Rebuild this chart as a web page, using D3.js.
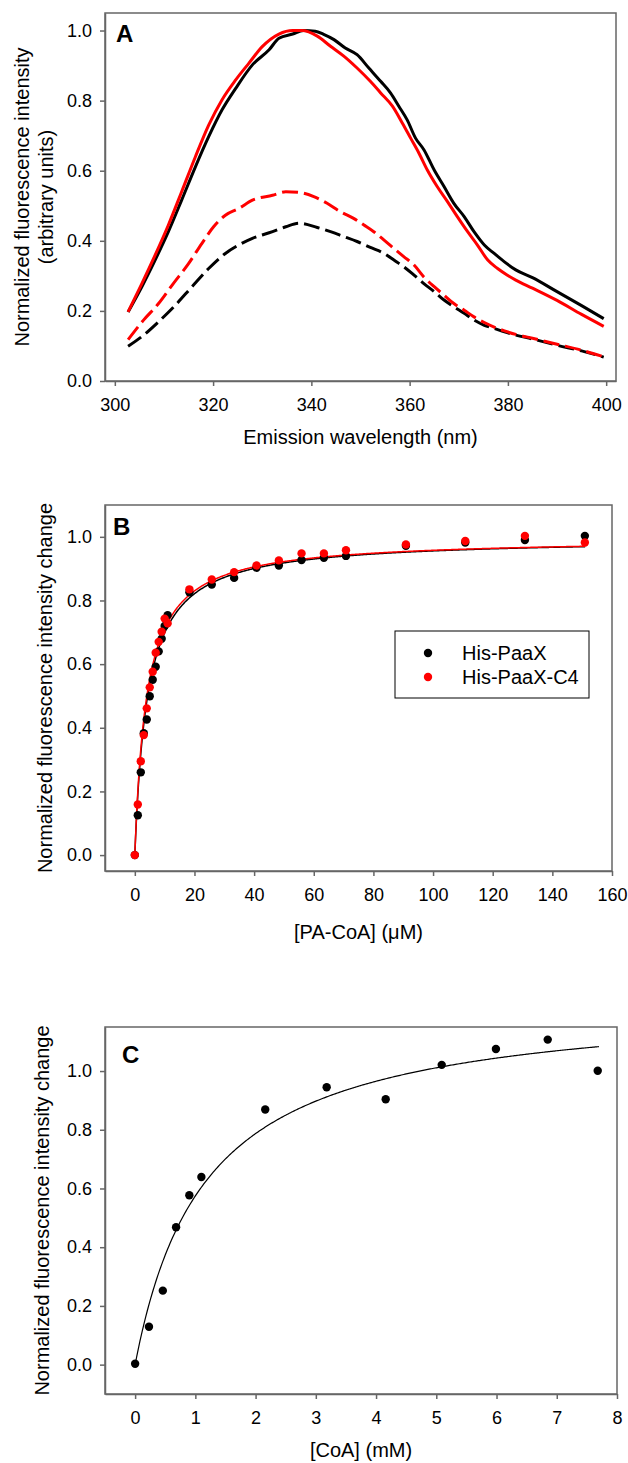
<!DOCTYPE html>
<html>
<head>
<meta charset="utf-8">
<script src="https://d3js.org/d3.v7.min.js"></script>
<style>
  body { margin: 0; background: #fff; }
  svg text { font-family: Arial, "Liberation Sans", sans-serif; fill: #000; }
</style>
</head>
<body>
<div id="chart"></div>
<script>
// ---- panel A : emission spectra, [wavelength nm, normalized intensity]
const specBlackSolid = [[302.7,0.197],[305.5,0.269],[308.2,0.345],[310.9,0.426],[313.6,0.516],[316.4,0.611],
  [319.1,0.697],[321.8,0.773],[324.6,0.835],[328.0,0.902],[331.4,0.945],[333.4,0.978],[336.2,0.99],[338.4,1.0],
  [340.8,0.998],[342.5,0.989],[344.6,0.974],[346.9,0.95],[349.3,0.931],[351.7,0.893],[354.1,0.855],[356.1,0.822],
  [357.8,0.784],[359.5,0.745],[361.2,0.693],[362.9,0.66],[365.0,0.602],[367.0,0.555],[369.0,0.507],[371.1,0.469],
  [373.1,0.426],[375.2,0.388],[377.2,0.364],[379.3,0.34],[381.6,0.317],[385,0.295],[390,0.255],[395,0.215],[399.5,0.178]];
const specRedSolid = [[302.7,0.197],[305.5,0.278],[308.2,0.359],[310.9,0.445],[313.6,0.54],[316.4,0.64],
  [319.1,0.73],[321.8,0.802],[324.6,0.859],[327.3,0.907],[330.0,0.954],[333.4,0.99],[336.2,1.0],[338.1,1.0],
  [341.2,0.984],[343.9,0.955],[346.6,0.927],[349.3,0.893],[352.0,0.855],[354.1,0.822],[356.5,0.784],[358.5,0.736],
  [360.2,0.693],[361.9,0.65],[363.6,0.602],[365.6,0.555],[367.7,0.512],[369.7,0.469],[371.8,0.426],[373.8,0.388],
  [375.9,0.345],[377.9,0.321],[379.9,0.302],[381.6,0.288],[385,0.265],[390,0.23],[395,0.19],[399.5,0.156]];
const specRedDash = [[302.7,0.118],[305.8,0.173],[308.9,0.221],[311.9,0.278],[315.0,0.335],[317.7,0.392],
  [320.1,0.44],[322.5,0.473],[325.2,0.492],[328.0,0.516],[332.1,0.53],[334.8,0.54],[337.5,0.538],[340.5,0.526],
  [343.2,0.507],[345.9,0.483],[348.6,0.464],[350.7,0.445],[352.7,0.426],[354.8,0.402],[356.8,0.378],[358.8,0.355],
  [360.9,0.331],[362.9,0.297],[365.0,0.269],[367.0,0.245],[369.0,0.221],[371.1,0.202],[373.1,0.183],[375.2,0.167],
  [377.2,0.154],[379.3,0.143],[381.6,0.133],[385,0.122],[390,0.105],[395,0.088],[399.5,0.069]];
const specBlackDash = [[302.7,0.099],[305.8,0.13],[308.9,0.169],[312.3,0.216],[315.7,0.269],[319.1,0.321],
  [322.5,0.364],[325.2,0.388],[328.0,0.407],[332.1,0.426],[334.8,0.44],[337.5,0.45],[341.2,0.438],[343.9,0.426],
  [346.6,0.412],[349.3,0.398],[352.0,0.381],[354.8,0.364],[356.8,0.345],[358.8,0.326],[360.9,0.302],[362.9,0.278],
  [365.0,0.255],[367.0,0.231],[369.0,0.212],[371.1,0.193],[373.1,0.174],[375.2,0.159],[377.2,0.15],[379.3,0.14],
  [381.6,0.131],[385,0.12],[390,0.102],[395,0.086],[399.5,0.068]];
const ticksA_x = [300, 320, 340, 360, 380, 400];
const ticksA_y = [0, 0.2, 0.4, 0.6, 0.8, 1.0];

// ---- panel B : PA-CoA titration
const paConc = [0, 1, 2, 3, 4, 5, 6, 7, 8, 9, 10, 11, 18.3, 25.8, 33.3, 40.8, 48.3, 55.9, 63.4, 70.8, 90.9, 110.8, 130.8, 150.9];
const paBlack = [0, 0.125, 0.26, 0.383, 0.426, 0.499, 0.551, 0.592, 0.64, 0.68, 0.72, 0.754,
  0.826, 0.85, 0.871, 0.903, 0.91, 0.927, 0.934, 0.94, 0.972, 0.982, 0.99, 1.003];
const paRed = [0, 0.159, 0.295, 0.377, 0.461, 0.527, 0.576, 0.636, 0.67, 0.702, 0.743, 0.728,
  0.835, 0.866, 0.889, 0.91, 0.926, 0.948, 0.948, 0.958, 0.976, 0.987, 1.003, 0.982];
const fitBlack = {bmax: 0.9966, kd: 4.27};
const fitRed = {bmax: 0.996, kd: 4.0};
const legendNames = ["His-PaaX", "His-PaaX-C4"];
const ticksB_x = [0, 20, 40, 60, 80, 100, 120, 140, 160];
const ticksB_y = [0, 0.2, 0.4, 0.6, 0.8, 1.0];

// ---- panel C : CoA titration
const coaConc = [0, 0.23, 0.46, 0.68, 0.9, 1.1, 2.16, 3.18, 4.16, 5.09, 5.99, 6.85, 7.68];
const coaVal = [0.003, 0.129, 0.252, 0.468, 0.577, 0.639, 0.869, 0.945, 0.904, 1.021, 1.075, 1.107, 1.001];
const fitCoa = {bmax: 1.248, kd: 1.172};
const ticksC_x = [0, 1, 2, 3, 4, 5, 6, 7, 8];
const ticksC_y = [0, 0.2, 0.4, 0.6, 0.8, 1.0];

const svg = d3.select("#chart").append("svg")
  .attr("width", 628).attr("height", 1463);

const AXIS = "#666";

function panel(cfg) {
  const x = d3.scaleLinear().domain(cfg.xDomain).range([cfg.left, cfg.right]);
  const y = d3.scaleLinear().domain(cfg.yDomain).range([cfg.bottom, cfg.top]);
  const g = svg.append("g");

  g.append("rect")
    .attr("x", cfg.left).attr("y", cfg.top)
    .attr("width", cfg.right - cfg.left).attr("height", cfg.bottom - cfg.top)
    .attr("fill", "none").attr("stroke", AXIS).attr("stroke-width", 1.5);

  const xa = g.append("g").attr("transform", `translate(0,${cfg.bottom})`)
    .call(d3.axisBottom(x).tickValues(cfg.xTicks).tickFormat(cfg.xFormat)
      .tickSize(5).tickPadding(12).tickSizeOuter(0));
  const ya = g.append("g").attr("transform", `translate(${cfg.left},0)`)
    .call(d3.axisLeft(y).tickValues(cfg.yTicks).tickFormat(d3.format(".1f"))
      .tickSize(5).tickPadding(8).tickSizeOuter(0));
  [xa, ya].forEach(a => {
    a.selectAll("path, line").attr("stroke", AXIS).attr("stroke-width", 1.5);
    a.selectAll("text").style("font-size", "18px").attr("fill", "#000");
  });

  g.append("text").attr("x", cfg.letterX).attr("y", cfg.letterY)
    .style("font-size", "24px").style("font-weight", "bold").text(cfg.letter);

  g.append("text").attr("x", (cfg.left + cfg.right) / 2).attr("y", cfg.xLabelY)
    .attr("text-anchor", "middle").style("font-size", "20px").text(cfg.xLabel);

  const mid = (cfg.top + cfg.bottom) / 2;
  cfg.yLabel.forEach((t, i) => {
    g.append("text")
      .attr("transform", `translate(${cfg.yLabelX[i]},${mid}) rotate(-90)`)
      .attr("text-anchor", "middle").attr("dy", "0.35em")
      .style("font-size", "20px").text(t);
  });
  return {g, x, y};
}

// ---------- A
const pA = panel({
  left: 105, right: 616, top: 13, bottom: 381,
  xDomain: [298, 402], yDomain: [0, 1.05],
  xTicks: ticksA_x, yTicks: ticksA_y, xFormat: d3.format("d"),
  letter: "A", letterX: 116, letterY: 42,
  xLabel: "Emission wavelength (nm)", xLabelY: 444,
  yLabel: ["Normalized fluorescence intensity", "(arbitrary units)"], yLabelX: [22, 46]
});
const lineA = d3.line().x(d => pA.x(d[0])).y(d => pA.y(d[1])).curve(d3.curveMonotoneX);
[
  {d: specBlackDash, c: "#000", dash: "16,6"},
  {d: specRedDash, c: "#ff0000", dash: "16,6"},
  {d: specBlackSolid, c: "#000", dash: null},
  {d: specRedSolid, c: "#ff0000", dash: null}
].forEach(s => {
  pA.g.append("path").datum(s.d)
    .attr("d", lineA).attr("fill", "none")
    .attr("stroke", s.c).attr("stroke-width", 3)
    .attr("stroke-dasharray", s.dash);
});

// ---------- B
const pB = panel({
  left: 105, right: 612, top: 505, bottom: 871,
  xDomain: [-10, 160], yDomain: [-0.05, 1.1],
  xTicks: ticksB_x, yTicks: ticksB_y, xFormat: d3.format("d"),
  letter: "B", letterX: 113, letterY: 535,
  xLabel: "[PA-CoA] (\u03bcM)", xLabelY: 939,
  yLabel: ["Normalized fluorescence intensity change"], yLabelX: [45]
});
const xsB = d3.range(0, 151.01, 0.25);
[{f: fitBlack, c: "#000"}, {f: fitRed, c: "#ff0000"}].forEach(s => {
  pB.g.append("path")
    .datum(xsB.map(v => [v, s.f.bmax * v / (s.f.kd + v)]))
    .attr("d", d3.line().x(d => pB.x(d[0])).y(d => pB.y(d[1])))
    .attr("fill", "none").attr("stroke", s.c).attr("stroke-width", 1.5);
});
[{v: paBlack, c: "#000"}, {v: paRed, c: "#ff0000"}].forEach(s => {
  pB.g.selectAll(null).data(paConc.map((c, i) => [c, s.v[i]])).join("circle")
    .attr("cx", d => pB.x(d[0])).attr("cy", d => pB.y(d[1])).attr("r", 4.2)
    .attr("fill", s.c);
});
// legend
const lg = pB.g.append("g");
lg.append("rect").attr("x", 395).attr("y", 631).attr("width", 194).attr("height", 67)
  .attr("fill", "#fff").attr("stroke", "#000").attr("stroke-width", 1);
["#000", "#ff0000"].forEach((c, i) => {
  lg.append("circle").attr("cx", 428).attr("cy", 653 + i * 24).attr("r", 4.2).attr("fill", c);
  lg.append("text").attr("x", 462).attr("y", 653 + i * 24).attr("dy", "0.35em")
    .style("font-size", "20px").attr("fill", c).text(legendNames[i]);
});

// ---------- C
const pC = panel({
  left: 105, right: 617, top: 1027, bottom: 1394,
  xDomain: [-0.5, 8], yDomain: [-0.1, 1.15],
  xTicks: ticksC_x, yTicks: ticksC_y, xFormat: d3.format("d"),
  letter: "C", letterX: 122, letterY: 1063,
  xLabel: "[CoA] (mM)", xLabelY: 1457,
  yLabel: ["Normalized fluorescence intensity change"], yLabelX: [42]
});
const xsC = d3.range(0, 7.701, 0.02);
pC.g.append("path")
  .datum(xsC.map(v => [v, fitCoa.bmax * v / (fitCoa.kd + v)]))
  .attr("d", d3.line().x(d => pC.x(d[0])).y(d => pC.y(d[1])))
  .attr("fill", "none").attr("stroke", "#000").attr("stroke-width", 1.2);
pC.g.selectAll(null).data(coaConc.map((c, i) => [c, coaVal[i]])).join("circle")
  .attr("cx", d => pC.x(d[0])).attr("cy", d => pC.y(d[1])).attr("r", 4.2)
  .attr("fill", "#000");
</script>
</body>
</html>
